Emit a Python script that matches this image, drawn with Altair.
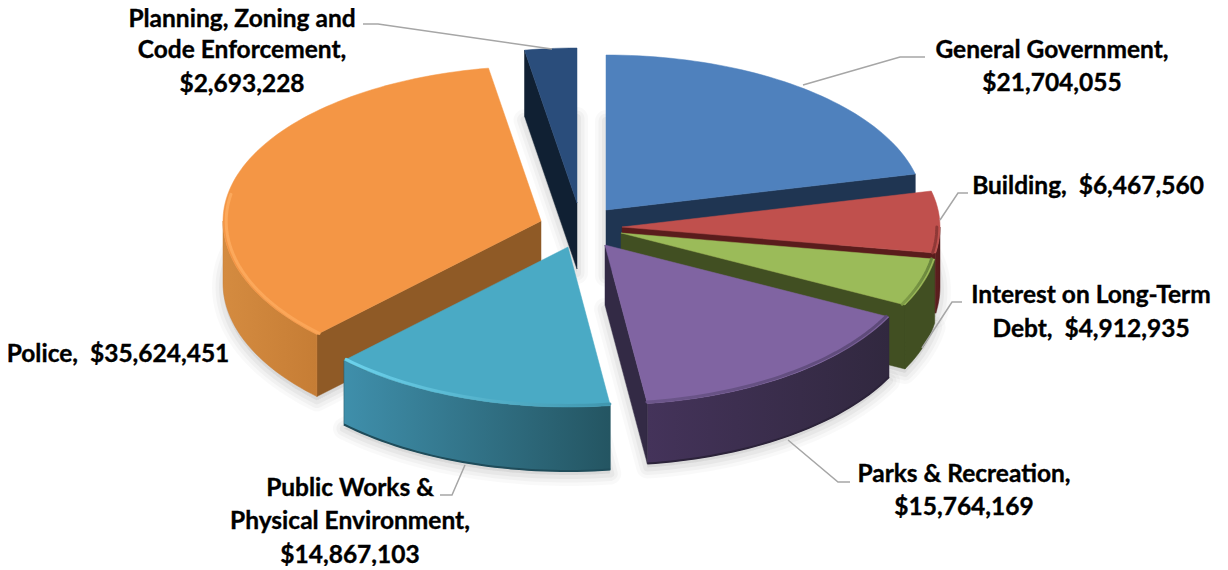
import math
import altair as alt
import pandas as pd

# ---- data ----
categories = ["General Government", "Building", "Interest on Long-Term Debt",
              "Parks & Recreation", "Public Works & Physical Environment",
              "Police", "Planning, Zoning and Code Enforcement"]
values = [21704055, 6467560, 4912935, 15764169, 14867103, 35624451, 2693228]

label_lines = [
    ["General Government,", "$21,704,055"],
    ["Building,\u00a0 $6,467,560"],
    ["Interest on Long-Term", "Debt,\u00a0 $4,912,935"],
    ["Parks & Recreation,", "$15,764,169"],
    ["Public Works &", "Physical Environment,", "$14,867,103"],
    ["Police,\u00a0 $35,624,451"],
    ["Planning, Zoning and", "Code Enforcement,", "$2,693,228"],
]

# ---- layout & style ----
OX, OY = 8, 8
W, H = 1212, 558
RX, RY_BACK, RY_FRONT = 318, 155, 160
apex = [(606, 210), (622, 227), (621, 233), (605, 245), (568, 247), (541, 221), (577, 203)]
depth = [62, 60, 64, 60, 64, 62, 66]
top_col = ["#4f81bd", "#c0504d", "#9bbb59", "#8064a2", "#4aaac5", "#f49645", "#2a4d7b"]
face_col = ["#1f3552", "#5a1c1c", "#414f22", "#332a45", "#255766", "#8f5a26", "#102033"]
wall_col = [("#1f3552", "#1f3552"), ("#5f1f1f", "#551c1c"), ("#414f22", "#414f22"),
            ("#44335a", "#31283f"), ("#3f8fab", "#245562"), ("#d48b40", "#c67d35"),
            ("#102033", "#102033")]
rim_col = [None, ("#8a3634", "#8a3634"), ("#7d9a45", "#64803a"), ("#6a5488", "#5a4775"),
           ("#6fd6f0", "#3f94ac"), ("#fdab5e", "#fba658"), None]
edge_col = {4: "#1f4c5a", 3: "#2c233a"}
draw_order = [6, 0, 5, 1, 2, 4, 3]
label_pos = [
    (1052, [58, 91]), (1088, [194]), (1091, [303, 337]), (964, [482, 515]),
    (350, [496, 529, 563]), (118, [362]), (242, [27, 58, 92]),
]
leaders = [
    [(803, 85), (900, 57), (925, 57)],
    [(940, 220), (958, 193), (968, 193)],
    [(922, 348), (952, 302), (962, 302)],
    [(788, 440), (838, 482), (850, 482)],
    [(465, 465), (452, 495), (440, 495)],
    [(363, 24), (378, 24), (552, 49)],
]

total = sum(values)
ends, acc = [], 0
for v in values:
    acc += v
    ends.append(acc / total * 360)
starts = [0] + ends[:-1]


def pt(i, deg, dy=0, k=1.0):
    t = math.radians(deg)
    c = math.cos(t)
    ry = RY_BACK if c >= 0 else RY_FRONT
    return (apex[i][0] + k * RX * math.sin(t), apex[i][1] - k * ry * c + dy)


def arc(i, a, b, dy=0, k=1.0):
    n = max(2, int(abs(b - a) / 1.5) + 1)
    return [pt(i, a + (b - a) * j / n, dy, k) for j in range(n + 1)]


def shift(p):
    return [round(p[0] - OX, 2), round(p[1] - OY, 2)]


def poly(points):
    ring = [shift(p) for p in points]
    ring.append(ring[0])
    return {"type": "Feature", "properties": {}, "geometry": {"type": "Polygon", "coordinates": [ring]}}


def line(points):
    return {"type": "Feature", "properties": {},
            "geometry": {"type": "LineString", "coordinates": [shift(p) for p in points]}}


def grad(c1, c2):
    return alt.LinearGradient(gradient="linear", x1=0, x2=1, y1=0, y2=0,
                              stops=[alt.GradientStop(color=c1, offset=0),
                                     alt.GradientStop(color=c2, offset=1)])


PROJ = dict(type="identity", reflectY=False)


def geo(feature, **mark):
    return alt.Chart(alt.Data(values=[feature])).mark_geoshape(**mark).project(**PROJ)


# Frame that pins the identity projection to the pixel grid of the plot area
frame = geo(poly([(OX, OY), (OX + W, OY), (OX + W, OY + H), (OX, OY + H)]),
            fill="transparent", stroke="transparent", strokeWidth=0)
layers = [frame]

# Soft shadows under every slice
for i in draw_order:
    base = [apex[i]] + arc(i, starts[i], ends[i])
    base = [(x, y + depth[i] + 4) for x, y in base]
    for w_, op in [(22, 0.022), (15, 0.03), (8, 0.04)]:
        layers.append(geo(poly(base), fill="#000000", fillOpacity=0.02, stroke="#000000",
                          strokeWidth=w_, strokeOpacity=op, strokeJoin="round"))

# Slices, back to front
for i in draw_order:
    a, b, d = starts[i], ends[i], depth[i]
    A = apex[i]
    if 180 < a < 360:  # cut face on the start side faces the viewer
        p = pt(i, a)
        layers.append(geo(poly([A, p, (p[0], p[1] + d), (A[0], A[1] + d)]),
                          fill=face_col[i], stroke=face_col[i], strokeWidth=0.5))
    if 0 < b < 180:  # cut face on the end side faces the viewer
        p = pt(i, b)
        layers.append(geo(poly([A, p, (p[0], p[1] + d), (A[0], A[1] + d)]),
                          fill=face_col[i], stroke=face_col[i], strokeWidth=0.5))
    lo, hi = max(a, 90), min(b, 270)
    if lo < hi:
        top = arc(i, lo, hi)
        bottom = arc(i, hi, lo, dy=d)
        grad_l, grad_r = wall_col[i]
        layers.append(geo(poly(top + bottom), fill=grad(grad_l, grad_r),
                          stroke=grad_r, strokeWidth=0.5))
        if i in edge_col:
            layers.append(geo(line(arc(i, lo, hi, dy=d)), filled=False, stroke=edge_col[i], strokeWidth=2))
    layers.append(geo(poly([A] + arc(i, a, b)), fill=top_col[i], stroke=top_col[i], strokeWidth=0.5))
    if lo < hi and rim_col[i]:
        hi2 = min(b, 280) if i == 5 else hi
        c1, c2 = rim_col[i]
        layers.append(geo(line(arc(i, lo, hi2, k=0.99)), filled=False, stroke=grad(c1, c2),
                          strokeWidth=3, strokeOpacity=0.9, strokeCap="round"))

# Leader lines
for seg in leaders:
    layers.append(geo(line(seg), filled=False, stroke="#a6a6a6", strokeWidth=1.5))

# Labels
rows = []
for (cx, ys), lines_ in zip(label_pos, label_lines):
    for y, txt in zip(ys, lines_):
        rows.append({"px": cx - OX, "py": y - OY, "txt": txt})
text = alt.Chart(pd.DataFrame(rows)).mark_text(
    font="Lato", fontWeight="bold", fontSize=24.5, color="#000000", align="center",
    baseline="alphabetic", stroke="#000000", strokeWidth=0.35
).encode(x=alt.X("px:Q", scale=None), y=alt.Y("py:Q", scale=None), text="txt:N")
layers.append(text)

chart = alt.layer(*layers).properties(
    width=W, height=H, padding=0, autosize=alt.AutoSizeParams(type="none")
).configure_view(stroke=None)

chart.save("out.html", embed_options={"renderer": "svg", "actions": False})
